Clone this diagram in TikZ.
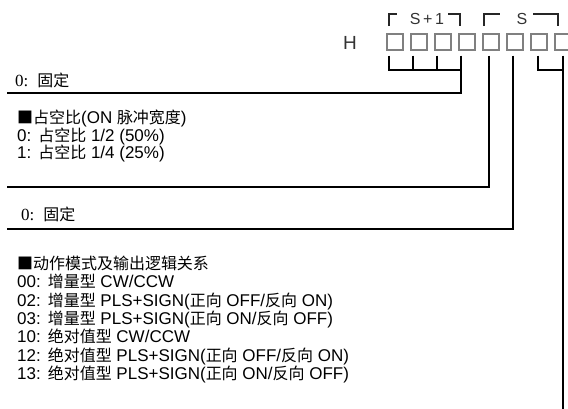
\documentclass[tikz,border=0pt]{standalone}
\usepackage{fontspec}
\setmainfont{Liberation Sans}
\newfontfamily\cjkfont[Scale=0.94]{Noto Sans CJK SC}
\newfontfamily\timesfont{Liberation Serif}
\newcommand{\zh}[1]{{\cjkfont #1}}

\begin{document}
\begin{tikzpicture}[x=1pt,y=-1pt,
    cell/.style={draw=black!50,line width=1.2pt,minimum width=16pt,minimum height=16pt,inner sep=0pt},
    wire/.style={line width=1.5pt},
    brk/.style={line width=1.5pt,black!85},
    reg/.style={inner sep=0pt,text=black!80,font=\fontsize{16}{16}\selectfont},
    txt/.style={anchor=west,inner sep=0pt,text height=14pt,text depth=3pt,font=\fontsize{17}{19}\selectfont}]

    \useasboundingbox (0,0) rectangle (568,408);
    \clip (0,0) rectangle (568,408);

    % register digits
    \node [reg,font=\fontsize{19}{19}\selectfont] (h) at (350,43) {H};
    \foreach \i in {1,...,8}
        \node [cell] (c\i) at ({395+24*(\i-1)},42) {};

    % word brackets
    \node [reg] (shi) at (427,19) {S\,+\,1};
    \node [reg] (slo) at (522,19) {S};
    \draw [brk] (389,26) -- (389,14) -- (397,14);
    \draw [brk] (448,14) -- (460,14) -- (460,26);
    \draw [brk] (484,26) -- (484,14) -- (500,14);
    \draw [brk] (533,14) -- (558,14) -- (558,26);

    % leads
    \coordinate (j) at (0,70);
    \coordinate (l1) at (7,93);
    \coordinate (l2) at (7,187);
    \coordinate (l3) at (7,229);
    \coordinate (bot) at (0,410);
    \foreach \i in {1,...,4}
        \coordinate (t\i) at ([xshift=-6pt,yshift=-5pt]c\i.south);
    \coordinate (t5) at ([xshift=-2pt,yshift=-5pt]c5.south);
    \coordinate (t6) at ([xshift=-2pt,yshift=-5pt]c6.south);
    \coordinate (t7) at ([xshift=-1pt,yshift=-5pt]c7.south);
    \coordinate (t8) at ([yshift=-5pt]c8.south);

    \draw [wire] (t1) -- (t1 |- j) -- (t4 |- j);
    \draw [wire] (t2) -- (t2 |- j);
    \draw [wire] (t3) -- (t3 |- j);
    \draw [wire] (t4) |- (l1);
    \draw [wire] (t5) |- (l2);
    \draw [wire] (t6) |- (l3);
    \draw [wire] (t7) -- (t7 |- j) -- (t8 |- j);
    \draw [wire] (t8) -- (t8 |- bot);

    % descriptions
    \node [txt] (fix1) at (15,81) {{\timesfont 0:}\hspace{9pt}\zh{固定}};

    \node [txt] (duty) at (17,118) {\zh{■占空比}(ON \zh{脉冲宽度})};
    \node [txt] (duty0) at (17,135.5) {0:\hspace{7pt}\zh{占空比} 1/2 (50\%)};
    \node [txt] (duty1) at (17,153) {1:\hspace{7pt}\zh{占空比} 1/4 (25\%)};

    \node [txt] (fix2) at (21,215) {{\timesfont 0:}\hspace{9pt}\zh{固定}};

    \node [txt] (mode) at (17,264) {\zh{■动作模式及输出逻辑关系}};
    \node [txt] (mode00) at (17,282.3) {00:\hspace{7pt}\zh{增量型} CW/CCW};
    \node [txt] (mode02) at (17,300.6) {02:\hspace{7pt}\zh{增量型} PLS+SIGN(\zh{正向} OFF/\zh{反向} ON)};
    \node [txt] (mode03) at (17,318.9) {03:\hspace{7pt}\zh{增量型} PLS+SIGN(\zh{正向} ON/\zh{反向} OFF)};
    \node [txt] (mode10) at (17,337.2) {10:\hspace{7pt}\zh{绝对值型} CW/CCW};
    \node [txt] (mode12) at (17,355.5) {12:\hspace{7pt}\zh{绝对值型} PLS+SIGN(\zh{正向} OFF/\zh{反向} ON)};
    \node [txt] (mode13) at (17,373.8) {13:\hspace{7pt}\zh{绝对值型} PLS+SIGN(\zh{正向} ON/\zh{反向} OFF)};
\end{tikzpicture}
\end{document}
